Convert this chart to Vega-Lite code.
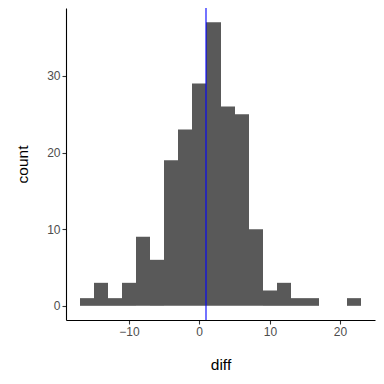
{
  "$schema": "https://vega.github.io/schema/vega-lite/v6.json",
  "width": 309,
  "height": 312,
  "autosize": {"type": "none"},
  "padding": {"left": 66, "top": 8, "right": 9, "bottom": 64},
  "background": "white",
  "config": {
    "view": {"stroke": null},
    "font": "Liberation Sans",
    "axis": {
      "grid": false,
      "domainColor": "black",
      "domainWidth": 1.1,
      "tickColor": "#333333",
      "tickWidth": 1.1,
      "tickSize": 4,
      "labelFont": "Liberation Sans",
      "labelFontSize": 12,
      "labelColor": "#4d4d4d",
      "labelPadding": 2,
      "titleFont": "Liberation Sans",
      "titleFontSize": 15.5,
      "titleFontWeight": "normal",
      "titleColor": "black"
    }
  },
  "datasets": {
    "bins": [
      {"bin_start": -17, "bin_end": -15, "count": 1},
      {"bin_start": -15, "bin_end": -13, "count": 3},
      {"bin_start": -13, "bin_end": -11, "count": 1},
      {"bin_start": -11, "bin_end": -9, "count": 3},
      {"bin_start": -9, "bin_end": -7, "count": 9},
      {"bin_start": -7, "bin_end": -5, "count": 6},
      {"bin_start": -5, "bin_end": -3, "count": 19},
      {"bin_start": -3, "bin_end": -1, "count": 23},
      {"bin_start": -1, "bin_end": 1, "count": 29},
      {"bin_start": 1, "bin_end": 3, "count": 37},
      {"bin_start": 3, "bin_end": 5, "count": 26},
      {"bin_start": 5, "bin_end": 7, "count": 25},
      {"bin_start": 7, "bin_end": 9, "count": 10},
      {"bin_start": 9, "bin_end": 11, "count": 2},
      {"bin_start": 11, "bin_end": 13, "count": 3},
      {"bin_start": 13, "bin_end": 15, "count": 1},
      {"bin_start": 15, "bin_end": 17, "count": 1},
      {"bin_start": 17, "bin_end": 19, "count": 0},
      {"bin_start": 19, "bin_end": 21, "count": 0},
      {"bin_start": 21, "bin_end": 23, "count": 1}
    ],
    "mean": [{"diff": 0.9}]
  },
  "layer": [
    {
      "data": {"name": "bins"},
      "mark": {"type": "rect", "fill": "#595959", "strokeWidth": 0},
      "encoding": {
        "x": {
          "field": "bin_start",
          "type": "quantitative",
          "title": "diff",
          "scale": {"domain": [-19, 25], "nice": false, "zero": false, "round": true},
          "axis": {"values": [-10, 0, 10, 20], "titlePadding": 20}
        },
        "x2": {"field": "bin_end"},
        "y": {
          "field": "count",
          "type": "quantitative",
          "title": "count",
          "scale": {"domain": [-1.85, 38.85], "nice": false, "zero": false},
          "axis": {"values": [0, 10, 20, 30], "titlePadding": 16}
        },
        "y2": {"datum": 0}
      }
    },
    {
      "data": {"name": "mean"},
      "mark": {"type": "rule", "color": "#0000ff", "strokeWidth": 1.1},
      "encoding": {
        "x": {"field": "diff", "type": "quantitative"}
      }
    }
  ]
}
